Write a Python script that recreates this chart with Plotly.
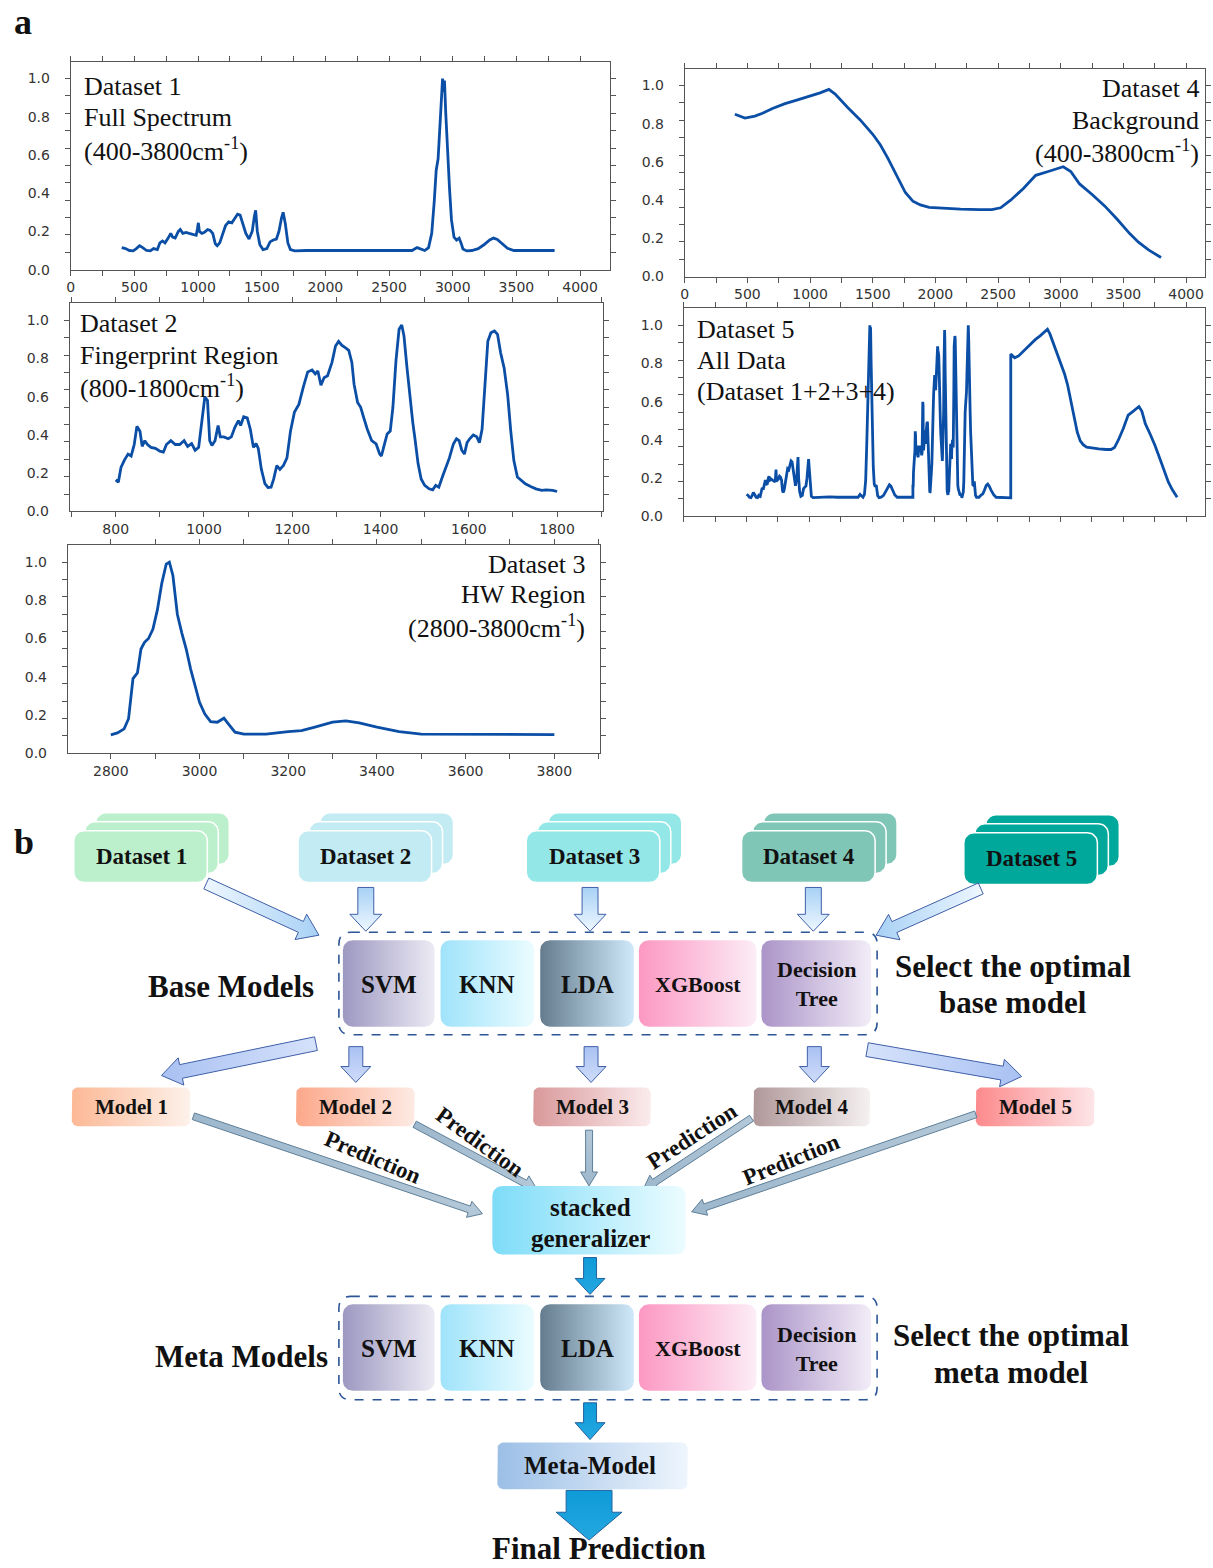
import math
import plotly.graph_objects as go

W, H = 1213, 1568

# ---------------- spectra ----------------
# Dataset 1: full spectrum 400-3800 cm-1
ds1_wavenumber = [400, 430, 460, 490, 515, 540, 565, 595, 625, 650, 680, 700, 720, 740, 765, 785, 800, 820,
                  845, 860, 880, 905, 930, 960, 985, 995, 1002, 1010, 1030, 1050, 1075, 1095, 1115, 1135,
                  1150, 1170, 1190, 1215, 1240, 1265, 1290, 1310, 1330, 1350, 1375, 1400, 1425, 1442, 1452,
                  1465, 1485, 1510, 1540, 1565, 1590, 1615, 1635, 1655, 1668, 1685, 1705, 1725, 1760, 1850,
                  1950, 2100, 2250, 2400, 2550, 2680, 2720, 2745, 2780, 2810, 2835, 2855, 2870, 2885, 2900,
                  2912, 2920, 2928, 2935, 2945, 2960, 2975, 2990, 3010, 3030, 3050, 3065, 3080, 3110, 3150,
                  3200, 3245, 3290, 3320, 3350, 3390, 3430, 3480, 3550, 3650, 3800]
ds1_intensity = [0.115, 0.11, 0.10, 0.098, 0.11, 0.125, 0.115, 0.10, 0.098, 0.11, 0.105, 0.14, 0.15, 0.14,
                 0.165, 0.19, 0.17, 0.165, 0.20, 0.21, 0.19, 0.195, 0.19, 0.185, 0.18, 0.215, 0.245, 0.20,
                 0.19, 0.195, 0.21, 0.205, 0.19, 0.135, 0.125, 0.14, 0.18, 0.23, 0.25, 0.245, 0.27, 0.29,
                 0.285, 0.24, 0.19, 0.16, 0.20, 0.28, 0.31, 0.20, 0.13, 0.105, 0.11, 0.145, 0.155, 0.16,
                 0.20, 0.27, 0.30, 0.24, 0.14, 0.105, 0.098, 0.10, 0.10, 0.102, 0.10, 0.101, 0.10, 0.10,
                 0.115, 0.11, 0.10, 0.115, 0.19, 0.36, 0.52, 0.58, 0.74, 0.90, 1.0, 0.93, 0.99, 0.82, 0.60,
                 0.42, 0.26, 0.17, 0.155, 0.165, 0.14, 0.108, 0.098, 0.10, 0.11, 0.13, 0.155, 0.165, 0.158,
                 0.135, 0.112, 0.10, 0.10, 0.101, 0.10]

# Dataset 2: fingerprint region 800-1800 cm-1
ds2_wavenumber = [800, 806, 812, 820, 828, 835, 842, 848, 855, 860, 866, 872, 880, 890, 900, 908, 915, 925,
                  935, 945, 955, 963, 972, 980, 988, 995, 1002, 1008, 1013, 1018, 1025, 1032, 1037, 1045,
                  1055, 1062, 1070, 1078, 1083, 1090, 1098, 1105, 1112, 1118, 1123, 1130, 1138, 1145, 1152,
                  1158, 1165, 1172, 1180, 1188, 1196, 1205, 1215, 1225, 1235, 1245, 1252, 1258, 1265, 1272,
                  1280, 1290, 1298, 1305, 1312, 1320, 1328, 1335, 1340, 1348, 1355, 1362, 1370, 1380, 1390,
                  1398, 1402, 1408, 1415, 1422, 1428, 1435, 1442, 1448, 1453, 1460, 1467, 1473, 1478, 1485,
                  1492, 1500, 1510, 1518, 1525, 1532, 1540, 1548, 1556, 1565, 1572, 1578, 1584, 1590, 1596,
                  1602, 1610, 1618, 1624, 1630, 1637, 1643, 1650, 1658, 1665, 1672, 1680, 1688, 1695, 1702,
                  1710, 1718, 1728, 1740, 1752, 1765, 1775, 1790, 1800]
ds2_intensity = [0.165, 0.153, 0.23, 0.27, 0.30, 0.29, 0.35, 0.445, 0.42, 0.34, 0.37, 0.35, 0.335, 0.33,
                 0.315, 0.31, 0.35, 0.37, 0.35, 0.35, 0.37, 0.34, 0.355, 0.32, 0.335, 0.46, 0.60, 0.58, 0.37,
                 0.345, 0.37, 0.45, 0.39, 0.39, 0.38, 0.39, 0.44, 0.475, 0.45, 0.495, 0.49, 0.43, 0.335,
                 0.355, 0.33, 0.22, 0.145, 0.125, 0.127, 0.17, 0.24, 0.22, 0.24, 0.28, 0.42, 0.52, 0.56,
                 0.65, 0.73, 0.74, 0.72, 0.735, 0.66, 0.70, 0.71, 0.78, 0.866, 0.89, 0.87, 0.857, 0.843,
                 0.78, 0.666, 0.57, 0.545, 0.49, 0.43, 0.37, 0.353, 0.30, 0.29, 0.344, 0.405, 0.42, 0.545,
                 0.79, 0.953, 0.976, 0.92, 0.75, 0.58, 0.466, 0.38, 0.25, 0.17, 0.136, 0.118, 0.113, 0.136,
                 0.127, 0.18, 0.23, 0.28, 0.353, 0.38, 0.37, 0.32, 0.30, 0.36, 0.38, 0.40, 0.39, 0.36, 0.43,
                 0.666, 0.89, 0.935, 0.944, 0.927, 0.83, 0.75, 0.61, 0.42, 0.266, 0.18, 0.162, 0.144, 0.13,
                 0.118, 0.11, 0.113, 0.11, 0.104]

# Dataset 3: HW region 2800-3800 cm-1
ds3_wavenumber = [2800, 2815, 2830, 2840, 2850, 2860, 2868, 2876, 2885, 2895, 2905, 2915, 2925, 2932, 2940,
                  2950, 2960, 2970, 2980, 2990, 3000, 3012, 3025, 3040, 3055, 3065, 3080, 3100, 3150, 3200,
                  3230, 3260, 3300, 3330, 3360, 3400, 3450, 3500, 3600, 3700, 3800]
ds3_intensity = [0.096, 0.106, 0.127, 0.18, 0.39, 0.42, 0.545, 0.58, 0.60, 0.65, 0.75, 0.89, 0.99, 1.0,
                 0.93, 0.727, 0.63, 0.545, 0.44, 0.353, 0.266, 0.205, 0.165, 0.162, 0.183, 0.153, 0.11,
                 0.10, 0.10, 0.113, 0.118, 0.136, 0.162, 0.169, 0.158, 0.136, 0.113, 0.10, 0.099, 0.099,
                 0.097]

# Dataset 4: background 400-3800 cm-1
ds4_wavenumber = [400, 480, 560, 620, 700, 800, 900, 1000, 1080, 1150, 1200, 1300, 1400, 1500, 1560, 1620,
                  1700, 1760, 1820, 1880, 1950, 2050, 2200, 2350, 2450, 2520, 2600, 2700, 2800, 2900, 3020,
                  3080, 3150, 3250, 3350, 3450, 3550, 3620, 3700, 3800]
ds4_intensity = [0.85, 0.83, 0.84, 0.855, 0.88, 0.905, 0.925, 0.945, 0.962, 0.98, 0.955, 0.885, 0.82, 0.745,
                 0.69, 0.62, 0.52, 0.44, 0.395, 0.375, 0.362, 0.357, 0.353, 0.35, 0.35, 0.36, 0.40, 0.46,
                 0.53, 0.55, 0.575, 0.55, 0.485, 0.43, 0.37, 0.30, 0.225, 0.18, 0.14, 0.10]

# Dataset 5 = Dataset 1 + 2 + 3 + 4 laid end to end on one feature axis
segments = [(ds1_wavenumber, ds1_intensity), (ds2_wavenumber, ds2_intensity),
            (ds3_wavenumber, ds3_intensity), (ds4_wavenumber, ds4_intensity)]
ds5_feature, ds5_intensity = [], []
offset = 0
for wn, val in segments:
    start = wn[0]
    ds5_feature += [offset + (w - start) for w in wn]
    ds5_intensity += list(val)
    offset += wn[-1] - start
ds5_span = offset

y_labels = [0.0, 0.2, 0.4, 0.6, 0.8, 1.0]
y_minor = [k / 11 for k in range(1, 11)] + [0.9995]

LINE_BLUE = "#0b4ea6"
SERIF = "Liberation Serif"
TICK_FONT = dict(family="DejaVu Sans", size=14, color="#333")

fig = go.Figure()


def dx(a, b):
    return [a / W, b / W]


def dy(top, bottom):
    return [1 - bottom / H, 1 - top / H]


def xaxis_cfg(domain, rng, dtick, minor_dtick, labels=True, tick0=0):
    return dict(domain=domain, range=rng, showline=True, linecolor="#555", linewidth=1, mirror="allticks",
                ticks="outside", ticklen=5, tickcolor="#555", tickmode="linear", tick0=tick0, dtick=dtick,
                minor=dict(dtick=minor_dtick, ticks="outside", ticklen=5, tickcolor="#555"),
                showgrid=False, zeroline=False, showticklabels=labels,
                tickfont=TICK_FONT, fixedrange=True)


def yaxis_cfg(domain):
    return dict(domain=domain, range=[0, 1.0885], showline=True, linecolor="#555", linewidth=1,
                mirror="allticks", ticks="outside", ticklen=0, tickcolor="#555", tickmode="array",
                tickvals=y_labels, ticktext=[f"{v:.1f}" for v in y_labels], ticklabelstandoff=17,
                minor=dict(tickmode="array", tickvals=y_minor, ticks="outside", ticklen=5, tickcolor="#555"),
                showgrid=False, zeroline=False,
                tickfont=TICK_FONT, fixedrange=True)


panels = [
    ("x", "y", ds1_wavenumber, ds1_intensity),
    ("x2", "y2", ds2_wavenumber, ds2_intensity),
    ("x3", "y3", ds3_wavenumber, ds3_intensity),
    ("x4", "y4", ds4_wavenumber, ds4_intensity),
    ("x5", "y5", ds5_feature, ds5_intensity),
]
for xa, ya, xs, ys in panels:
    fig.add_trace(go.Scatter(x=xs, y=ys, mode="lines", line=dict(color=LINE_BLUE, width=2.8),
                             xaxis=xa, yaxis=ya, showlegend=False, hoverinfo="skip"))

k5 = ds5_span / 432.0
layout_axes = dict(
    xaxis=xaxis_cfg(dx(67, 608), [0, 4235], 500, 250),
    yaxis=yaxis_cfg(dy(62, 271)),
    xaxis2=xaxis_cfg(dx(66, 601), [696, 1904], 200, 100),
    yaxis2=yaxis_cfg(dy(305, 514)),
    xaxis3=xaxis_cfg(dx(64, 598), [2703, 3903], 200, 100),
    yaxis3=yaxis_cfg(dy(548, 757)),
    xaxis4=xaxis_cfg(dx(683, 1205), [0, 4151], 500, 250),
    yaxis4=yaxis_cfg(dy(69, 278)),
    xaxis5=xaxis_cfg(dx(682, 1205), [-63 * k5, ds5_span + 28 * k5], 63 * k5, 31.5 * k5, labels=False),
    yaxis5=yaxis_cfg(dy(310, 519)),
    xaxis6=dict(domain=[0, 1], range=[0, W], visible=False, fixedrange=True),
    yaxis6=dict(domain=[0, 1 - 790 / H], range=[H, 790], visible=False, fixedrange=True),
)
for i in range(1, 6):
    xk = "xaxis" if i == 1 else f"xaxis{i}"
    layout_axes[xk]["anchor"] = "y" if i == 1 else f"y{i}"
    yk = "yaxis" if i == 1 else f"yaxis{i}"
    layout_axes[yk]["anchor"] = "x" if i == 1 else f"x{i}"
layout_axes["xaxis6"]["anchor"] = "y6"
layout_axes["yaxis6"]["anchor"] = "x6"

annotations = []


def ptext(x, y, text, size=25, anchor="left", family=SERIF, color="#111"):
    annotations.append(dict(x=x / W, y=1 - y / H, xref="paper", yref="paper", text=text, showarrow=False,
                            xanchor=anchor, yanchor="middle", font=dict(family=family, size=size, color=color)))


# panel captions
for (x, ys, lines, anc) in [
    (78, [87, 118, 150], ["Dataset 1", "Full Spectrum", "(400-3800cm<sup>-1</sup>)"], "left"),
    (1201, [89, 121, 152], ["Dataset 4", "Background", "(400-3800cm<sup>-1</sup>)"], "right"),
    (74, [325, 357, 388], ["Dataset 2", "Fingerprint Region", "(800-1800cm<sup>-1</sup>)"], "left"),
    (693, [331, 362, 394], ["Dataset 5", "All Data", "(Dataset 1+2+3+4)"], "left"),
    (585, [567, 598, 630], ["Dataset 3", "HW Region", "(2800-3800cm<sup>-1</sup>)"], "right"),
]:
    for yy, t in zip(ys, lines):
        ptext(x, yy, t, size=26, anchor=anc)

ptext(8, 22, "<b>a</b>", size=36)
ptext(8, 846, "<b>b</b>", size=36)

# ---------------- flowchart ----------------
FX, FY = "x6", "y6"


def rrect(x0, y0, x1, y1, r, n=8):
    pts = []
    for cx, cy, a0, a1 in [(x1 - r, y0 + r, -90, 0), (x1 - r, y1 - r, 0, 90),
                           (x0 + r, y1 - r, 90, 180), (x0 + r, y0 + r, 180, 270)]:
        for i in range(n + 1):
            a = math.radians(a0 + (a1 - a0) * i / n)
            pts.append((cx + r * math.cos(a), cy + r * math.sin(a)))
    pts.append(pts[0])
    return [p[0] for p in pts], [p[1] for p in pts]


def poly(xs, ys, fill=None, grad=None, line_color="rgba(0,0,0,0)", line_width=1):
    kw = dict(x=xs, y=ys, mode="lines", fill="toself", line=dict(color=line_color, width=line_width),
              xaxis=FX, yaxis=FY, showlegend=False, hoverinfo="skip")
    if grad is not None:
        kind, c0, c1 = grad
        kw["fillgradient"] = dict(type=kind, colorscale=[[0, c0], [1, c1]])
    else:
        kw["fillcolor"] = fill
    fig.add_trace(go.Scatter(**kw))


def box(x0, y0, x1, y1, r, c0, c1, kind="horizontal", line_color="rgba(0,0,0,0)", lw=1):
    xs, ys = rrect(x0, y0, x1, y1, r)
    poly(xs, ys, grad=(kind, c0, c1), line_color=line_color, line_width=lw)


def arrow(x0, y0, x1, y1, sw, hw, hl, grad, line_color, lw=1):
    L = math.hypot(x1 - x0, y1 - y0)
    ux, uy = (x1 - x0) / L, (y1 - y0) / L
    nx, ny = -uy, ux
    bx, by = x0 + ux * (L - hl), y0 + uy * (L - hl)
    pts = [(x0 + nx * sw / 2, y0 + ny * sw / 2), (bx + nx * sw / 2, by + ny * sw / 2),
           (bx + nx * hw / 2, by + ny * hw / 2), (x1, y1),
           (bx - nx * hw / 2, by - ny * hw / 2), (bx - nx * sw / 2, by - ny * sw / 2),
           (x0 - nx * sw / 2, y0 - ny * sw / 2)]
    pts.append(pts[0])
    poly([p[0] for p in pts], [p[1] for p in pts], grad=grad, line_color=line_color, line_width=lw)


def ftext(x, y, text, size=22, anchor="center", angle=0, color="#111"):
    annotations.append(dict(x=x, y=y, xref=FX, yref=FY, text=text, showarrow=False, xanchor=anchor,
                            yanchor="middle", textangle=angle,
                            font=dict(family=SERIF, size=size, color=color)))


# dataset cards (three stacked sheets each)
dataset_names = ["Dataset 1", "Dataset 2", "Dataset 3", "Dataset 4", "Dataset 5"]
dataset_left = [70, 295, 524, 740, 963]
dataset_top = [835, 835, 835, 835, 837]
dataset_colors = ["#bcefcb", "#c2ebf3", "#93e7e7", "#80c6b6", "#00a89c"]
for name, x0, y0, col in zip(dataset_names, dataset_left, dataset_top, dataset_colors):
    for k in (2, 1, 0):
        xs, ys = rrect(x0 + 11 * k, y0 - 9 * k, x0 + 134 + 11 * k, y0 + 52 - 9 * k, 10)
        poly(xs, ys, fill=col, line_color="white", line_width=1.5)
    ftext(x0 + 68, y0 + 26, f"<b>{name}</b>", size=23)

# arrows: datasets -> base models
LIGHT_LINE = "#3f5fa8"
arrow(203, 888, 316, 940, 12, 28, 20, ("horizontal", "#eef7ff", "#a8d1f5"), LIGHT_LINE)
for xc in (363, 588, 812):
    arrow(xc, 892, xc, 936, 16, 32, 17, ("vertical", "#eef7ff", "#a8d1f5"), LIGHT_LINE)
arrow(980, 893, 875, 940, 12, 28, 20, ("horizontal", "#a8d1f5", "#eef7ff"), LIGHT_LINE)

# model blocks (base row and meta row)
model_names = ["<b>SVM</b>", "<b>KNN</b>", "<b>LDA</b>", "<b>XGBoost</b>", "<b>Decision<br>Tree</b>"]
model_x = [(340, 432), (438, 532), (538, 632), (637, 755), (760, 870)]
model_grad = [("#9d98c1", "#ecebf4"), ("#9fe3fb", "#ebfcff"), ("#647c8e", "#cfe9fb"),
              ("#fc98c3", "#fcedf6"), ("#ab94c8", "#f2ecf7")]
model_size = [25, 25, 25, 22, 22]


def dashed_frame(x0, y0, x1, y1, r=12):
    path = (f"M {x0 + r},{y0} L {x1 - r},{y0} Q {x1},{y0} {x1},{y0 + r} L {x1},{y1 - r} "
            f"Q {x1},{y1} {x1 - r},{y1} L {x0 + r},{y1} Q {x0},{y1} {x0},{y1 - r} "
            f"L {x0},{y0 + r} Q {x0},{y0} {x0 + r},{y0} Z")
    return dict(type="path", path=path, xref=FX, yref=FY, line=dict(color="#2c5596", width=1.6, dash="dash"),
                fillcolor="rgba(0,0,0,0)", layer="above")


shapes = []
for (top, bottom) in [(945, 1032), (1311, 1398)]:
    for name, (x0, x1), (c0, c1), sz in zip(model_names, model_x, model_grad, model_size):
        box(x0, top, x1, bottom, 10, c0, c1)
        ftext((x0 + x1) / 2, (top + bottom) / 2 + 1, name, size=sz)
shapes.append(dashed_frame(336, 937, 876, 1040))
shapes.append(dashed_frame(336, 1303, 876, 1407))

ftext(313, 992, "<b>Base Models</b>", size=31, anchor="right")
ftext(1012, 971, "<b>Select the optimal</b>", size=31)
ftext(1012, 1008, "<b>base model</b>", size=31)
ftext(327, 1363, "<b>Meta Models</b>", size=31, anchor="right")
ftext(1010, 1342, "<b>Select the optimal</b>", size=31)
ftext(1010, 1380, "<b>meta model</b>", size=31)

# arrows: base models -> trained models
MID_GRAD = "#a9c1f2"
arrow(313, 1049, 158, 1081, 14, 28, 20, ("horizontal", MID_GRAD, "#d6e2fb"), LIGHT_LINE)
for xc in (353, 589, 813):
    arrow(xc, 1052, xc, 1088, 14, 30, 16, ("vertical", "#cfdcf9", MID_GRAD), LIGHT_LINE)
arrow(866, 1055, 1021, 1082, 14, 28, 20, ("horizontal", "#d6e2fb", MID_GRAD), LIGHT_LINE)

# trained model boxes
trained = ["Model 1", "Model 2", "Model 3", "Model 4", "Model 5"]
trained_x = [(68, 187), (293, 412), (531, 649), (752, 869), (975, 1094)]
trained_grad = [("#fcb895", "#fdf2eb"), ("#fca88a", "#fdeae3"), ("#d9999b", "#fbebec"),
                ("#b0989a", "#f5f1f1"), ("#fc8a8c", "#fde5e7")]
for name, (x0, x1), (c0, c1) in zip(trained, trained_x, trained_grad):
    box(x0, 1093, x1, 1132, 6, c0, c1)
    ftext((x0 + x1) / 2, 1113, f"<b>{name}</b>", size=21)

# prediction arrows into the stacked generalizer
PRED_FILL = ("horizontal", "#9db7cc", "#b3c8d8")
PRED_LINE = "#5f7f98"
arrow(190, 1122, 480, 1220, 7, 17, 14, PRED_FILL, PRED_LINE)
arrow(412, 1130, 535, 1196, 7, 17, 14, PRED_FILL, PRED_LINE)
arrow(587, 1136, 587, 1192, 7, 17, 14, ("vertical", "#9db7cc", "#b3c8d8"), PRED_LINE)
arrow(750, 1124, 641, 1196, 7, 17, 14, PRED_FILL, PRED_LINE)
arrow(975, 1120, 690, 1218, 7, 17, 14, PRED_FILL, PRED_LINE)

ftext(370, 1163, "<b>Prediction</b>", size=23, angle=23)
ftext(478, 1148, "<b>Prediction</b>", size=23, angle=36)
ftext(690, 1142, "<b>Prediction</b>", size=23, angle=-33)
ftext(790, 1165, "<b>Prediction</b>", size=23, angle=-22)

# stacked generalizer
box(490, 1192, 684, 1261, 10, "#7ddcf8", "#ecfcff")
ftext(588, 1214, "<b>stacked</b>", size=25)
ftext(588, 1245, "<b>generalizer</b>", size=25)

BLUE_FILL = ("vertical", "#25a7e0", "#0d9bd8")
BLUE_LINE = "#23619e"
arrow(588, 1264, 588, 1301, 13, 30, 16, BLUE_FILL, BLUE_LINE)
arrow(588, 1410, 588, 1447, 13, 30, 17, BLUE_FILL, BLUE_LINE)

# meta-model and final output
box(495, 1450, 686, 1497, 6, "#9cbfe6", "#eef5fd")
ftext(588, 1473, "<b>Meta-Model</b>", size=25)
arrow(587, 1498, 587, 1548, 46, 66, 28, BLUE_FILL, BLUE_LINE)
ftext(597, 1556, "<b>Final Prediction</b>", size=31)

fig.update_layout(
    width=W, height=H, autosize=False,
    margin=dict(l=0, r=0, t=0, b=0),
    paper_bgcolor="white", plot_bgcolor="rgba(0,0,0,0)",
    showlegend=False, annotations=annotations, shapes=shapes,
    **layout_axes,
)

fig.write_html("out.html")
